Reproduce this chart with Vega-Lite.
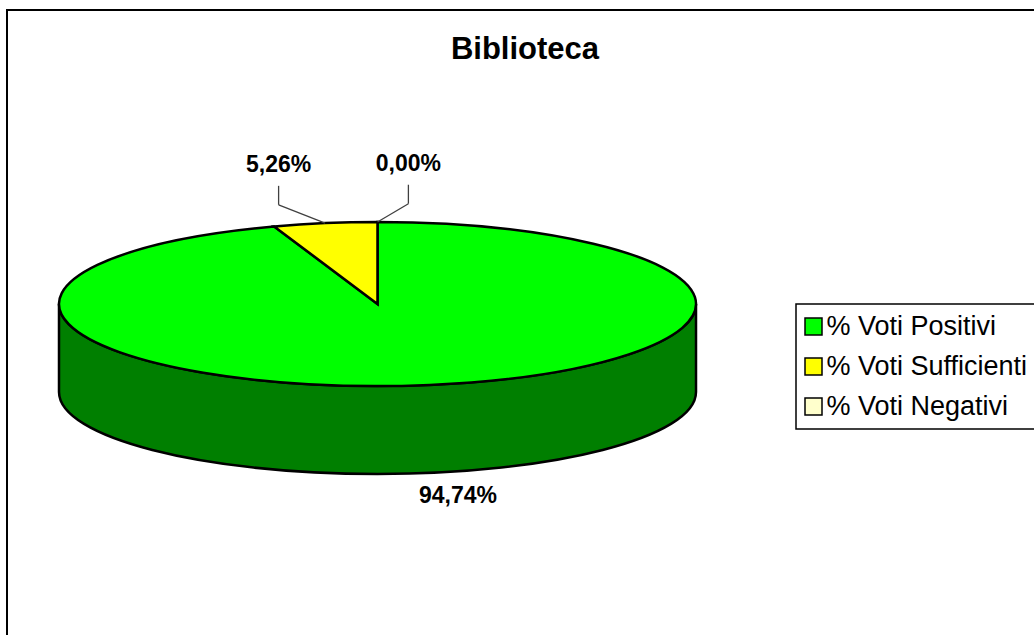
{
  "$schema": "https://vega.github.io/schema/vega-lite/v6.json",
  "width": 1040,
  "height": 640,
  "autosize": {"type": "none"},
  "padding": {"left": 7, "top": 10, "right": 0, "bottom": 0},
  "background": "white",
  "title": {
    "text": "Biblioteca",
    "font": "Liberation Sans",
    "fontSize": 31,
    "fontWeight": "bold",
    "color": "black",
    "anchor": "middle",
    "frame": "group",
    "baseline": "alphabetic",
    "offset": -80,
    "dx": -2
  },
  "data": {
    "values": [
      {"categoria": "% Voti Positivi", "valore": 94.74},
      {"categoria": "% Voti Sufficienti", "valore": 5.26},
      {"categoria": "% Voti Negativi", "valore": 0}
    ]
  },
  "transform": [
    {"stack": "valore", "groupby": [], "as": ["v0", "v1"], "sort": [{"field": "categoria", "order": "ascending"}]},
    {"joinaggregate": [{"op": "sum", "field": "valore", "as": "totale"}]},
    {"calculate": "2 * PI * datum.v0 / datum.totale", "as": "a0"},
    {"calculate": "2 * PI * datum.v1 / datum.totale", "as": "a1"},
    {"calculate": "(datum.a0 + datum.a1) / 2", "as": "am"},
    {"calculate": "max(datum.a0, PI / 2)", "as": "lo"},
    {"calculate": "min(datum.a1, 3 * PI / 2)", "as": "hi"},
    {"calculate": "round(100000 * sin(datum.a0)) / 100000", "as": "px0"},
    {"calculate": "round(-25750 * cos(datum.a0)) / 100000", "as": "py0"},
    {"calculate": "round(100000 * sin(datum.a1)) / 100000", "as": "px1"},
    {"calculate": "round(-25750 * cos(datum.a1)) / 100000", "as": "py1"},
    {"calculate": "round(100000 * sin(datum.lo)) / 100000", "as": "qx0"},
    {"calculate": "round(-25750 * cos(datum.lo)) / 100000", "as": "qy0"},
    {"calculate": "round(100000 * sin(datum.hi)) / 100000", "as": "qx1"},
    {"calculate": "round(-25750 * cos(datum.hi)) / 100000", "as": "qy1"},
    {"calculate": "'M0,0L' + datum.px0 + ',' + datum.py0 + 'A1,0.2575,0,' + (datum.a1 - datum.a0 > PI ? 1 : 0) + ',1,' + datum.px1 + ',' + datum.py1 + 'Z'", "as": "faccia"},
    {"calculate": "'M' + datum.qx0 + ',' + datum.qy0 + 'A1,0.2575,0,0,1,' + datum.qx1 + ',' + datum.qy1 + 'L' + datum.qx1 + ',' + (datum.qy1 + 0.2763) + 'A1,0.2575,0,0,0,' + datum.qx0 + ',' + (datum.qy0 + 0.2763) + 'Z'", "as": "parete"},
    {"calculate": "cos(datum.am) < 0", "as": "fronte"},
    {"calculate": "sin(datum.am)", "as": "ex"},
    {"calculate": "datum.fronte ? 0.2763 - 0.2575 * cos(datum.am) : -0.2575 * cos(datum.am)", "as": "ey"},
    {"calculate": "datum.fronte ? datum.ex + 0.088 : datum.ex + (sin(datum.am) < -0.000001 ? -0.146 : 0.097)", "as": "lx"},
    {"calculate": "datum.fronte ? datum.ey + 0.074 : datum.ey - 0.183", "as": "ly"},
    {"calculate": "datum.ly + 0.1256", "as": "gy"},
    {"calculate": "datum.ly + 0.066", "as": "fy"},
    {"calculate": "replace(format(datum.valore, '.2f'), '.', ',') + '%'", "as": "etichetta"}
  ],
  "layer": [
    {
      "transform": [{"filter": "datum.hi > datum.lo"}],
      "mark": {"type": "point", "filled": true, "opacity": 1, "stroke": "black", "strokeWidth": 2.5, "size": 405769},
      "encoding": {
        "x": {"datum": 0, "type": "quantitative", "scale": {"domain": [-1.16327, 2.10204], "nice": false, "zero": false}, "axis": null},
        "y": {"datum": 0, "type": "quantitative", "scale": {"domain": [-0.92308, 1.08634], "nice": false, "zero": false, "reverse": true}, "axis": null},
        "shape": {"field": "parete", "type": "nominal", "scale": null},
        "fill": {
          "condition": [
            {"test": "datum.categoria === '% Voti Sufficienti'", "value": "#7F7F00"},
            {"test": "datum.categoria === '% Voti Negativi'", "value": "#7F7F66"}
          ],
          "value": "#007F00"
        }
      }
    },
    {
      "transform": [{"filter": "datum.valore > 0"}],
      "mark": {"type": "point", "filled": true, "opacity": 1, "stroke": "black", "strokeWidth": 2.5, "size": 405769},
      "encoding": {
        "x": {"datum": 0, "type": "quantitative", "scale": {"domain": [-1.16327, 2.10204], "nice": false, "zero": false}, "axis": null},
        "y": {"datum": 0, "type": "quantitative", "scale": {"domain": [-0.92308, 1.08634], "nice": false, "zero": false, "reverse": true}, "axis": null},
        "shape": {"field": "faccia", "type": "nominal", "scale": null},
        "color": {
          "field": "categoria",
          "type": "nominal",
          "scale": {"domain": ["% Voti Positivi", "% Voti Sufficienti", "% Voti Negativi"], "range": ["#00FF00", "#FFFF00", "#FFFFCC"]},
          "legend": {
            "title": null,
            "orient": "none",
            "legendX": 789,
            "legendY": 294,
            "symbolType": "square",
            "symbolSize": 289,
            "symbolStrokeColor": "black",
            "symbolStrokeWidth": 1.5,
            "symbolOpacity": 1,
            "symbolOffset": -5,
            "labelFont": "Liberation Sans",
            "labelFontSize": 27,
            "labelColor": "black",
            "labelOffset": -0.5,
            "labelLimit": 400,
            "rowPadding": 12,
            "padding": 9,
            "strokeColor": "black",
            "fillColor": "white"
          }
        }
      }
    },
    {
      "transform": [{"filter": "!datum.fronte"}],
      "mark": {"type": "rule", "stroke": "#404040", "strokeWidth": 1.3},
      "encoding": {
        "x": {"field": "ex", "type": "quantitative", "scale": {"domain": [-1.16327, 2.10204], "nice": false, "zero": false}, "axis": null},
        "y": {"field": "ey", "type": "quantitative", "scale": {"domain": [-0.92308, 1.08634], "nice": false, "zero": false, "reverse": true}, "axis": null},
        "x2": {"field": "lx"},
        "y2": {"field": "gy"}
      }
    },
    {
      "transform": [{"filter": "!datum.fronte"}],
      "mark": {"type": "rule", "stroke": "#404040", "strokeWidth": 1.3},
      "encoding": {
        "x": {"field": "lx", "type": "quantitative", "scale": {"domain": [-1.16327, 2.10204], "nice": false, "zero": false}, "axis": null},
        "y": {"field": "gy", "type": "quantitative", "scale": {"domain": [-0.92308, 1.08634], "nice": false, "zero": false, "reverse": true}, "axis": null},
        "x2": {"field": "lx"},
        "y2": {"field": "fy"}
      }
    },
    {
      "mark": {"type": "text", "font": "Liberation Sans", "fontSize": 23, "fontWeight": "bold", "color": "black", "align": "center", "baseline": "middle"},
      "encoding": {
        "x": {"field": "lx", "type": "quantitative", "scale": {"domain": [-1.16327, 2.10204], "nice": false, "zero": false}, "axis": null},
        "y": {"field": "ly", "type": "quantitative", "scale": {"domain": [-0.92308, 1.08634], "nice": false, "zero": false, "reverse": true}, "axis": null},
        "text": {"field": "etichetta", "type": "nominal"}
      }
    }
  ],
  "config": {
    "font": "Liberation Sans",
    "view": {"stroke": "black", "strokeWidth": 2, "fill": "white"},
    "legend": {"strokeWidth": 1.5}
  }
}
